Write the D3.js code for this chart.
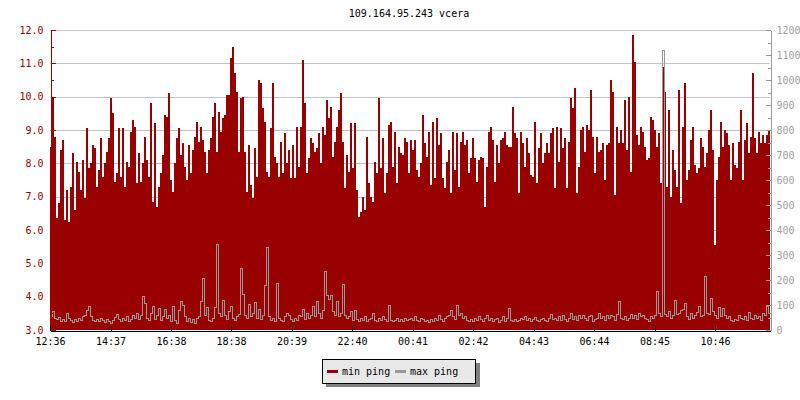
<!DOCTYPE html>
<html>
<head>
<meta charset="utf-8">
<script src="https://cdnjs.cloudflare.com/ajax/libs/d3/7.8.5/d3.min.js"></script>
<style>
  html, body { margin: 0; padding: 0; background: #fff; }
  svg { display: block; }
  text { font-family: "DejaVu Sans Mono", monospace; }
</style>
</head>
<body>
<div id="chart"></div>
<script>
// ---------------- DATA ----------------
const chartTitle = "109.164.95.243 vcera";
const startTime = "12:36";
const stepMinutes = 4;
const spanMinutes = 1440;

// min ping (ms, left axis), one value every 4 minutes
const minPing = [
  8.5,10.0,8.8,6.35,6.8,8.4,8.7,6.3,7.2,6.25,
  7.3,8.3,6.6,8.05,7.75,7.2,8.1,6.95,9.05,7.85,
  8.0,8.55,8.45,7.3,7.8,8.75,7.6,8.0,8.35,8.75,
  9.95,9.5,7.45,7.7,9.05,7.6,9.05,7.3,8.05,7.9,
  8.95,9.3,9.1,7.4,8.3,7.45,8.0,8.8,8.1,7.6,
  9.8,6.85,9.2,6.7,7.3,7.7,8.25,9.45,9.4,10.1,
  7.5,7.15,8.0,8.75,9.05,8.25,8.6,7.9,7.5,8.55,
  7.7,8.4,8.8,9.25,8.65,9.1,8.7,8.35,7.7,8.4,
  8.75,9.4,9.8,8.35,9.55,8.95,9.35,9.45,10.05,
  10.05,11.15,11.5,10.7,10.15,8.35,9.95,10.0,8.35,7.15,
  8.55,7.35,6.95,8.45,7.6,10.5,10.4,9.65,9.25,7.75,
  7.6,9.05,10.4,8.2,8.0,7.6,8.65,7.7,8.9,8.0,
  8.4,7.55,8.55,7.55,9.1,7.9,9.1,11.1,9.8,7.7,
  8.15,8.75,8.6,8.35,8.45,8.9,8.0,9.1,8.85,9.9,
  9.35,9.7,8.2,8.65,9.1,9.6,10.1,8.65,7.25,8.25,
  7.75,9.2,7.85,9.2,7.2,6.4,6.55,7.0,6.6,8.8,
  7.4,7.0,6.85,8.05,7.7,9.95,7.85,8.75,7.1,7.7,
  9.15,9.25,7.9,8.95,7.4,8.5,8.3,8.25,8.75,8.65,7.7,
  8.7,8.4,8.7,7.8,7.6,8.0,9.45,8.6,8.2,8.95,
  7.35,9.25,7.55,9.35,8.55,8.9,7.55,7.25,8.05,8.4,
  7.1,8.95,7.8,8.9,7.3,8.65,8.95,8.55,8.7,7.7,
  8.15,8.75,8.15,7.45,8.1,8.2,8.15,6.7,7.9,8.95,
  9.1,8.7,7.45,8.55,8.0,8.7,8.75,8.95,8.55,8.5,
  8.5,9.7,8.9,8.75,7.1,8.95,8.6,7.9,8.75,8.3,
  7.65,7.6,9.25,7.4,8.45,8.9,8.0,8.3,8.6,8.3,
  8.9,9.05,7.25,9.1,8.05,9.05,8.45,8.75,7.25,8.65,
  9.95,9.65,10.25,7.1,7.9,9.0,9.1,8.35,9.15,9.0,
  10.2,8.8,7.7,8.8,8.35,8.4,8.6,7.5,8.55,8.6,
  10.5,10.15,7.05,9.1,8.6,9.0,8.6,9.9,8.4,10.0,
  7.75,11.85,11.05,8.85,8.55,9.1,8.95,8.5,8.1,8.15,
  9.4,9.3,9.0,8.5,8.9,7.4,10.9,10.15,7.3,9.6,
  7.0,8.4,7.8,7.3,10.2,6.8,9.1,10.4,7.5,7.8,
  8.7,9.1,7.95,7.7,7.85,8.75,8.5,7.9,8.3,9.0,
  9.6,8.4,5.55,7.5,8.2,9.25,8.5,9.0,8.9,8.55,
  7.5,8.6,7.95,7.85,8.65,9.6,7.5,8.7,9.2,8.3,
  8.8,10.7,8.75,8.3,8.95,8.6,8.85,8.6,8.85,9.0
];

// max ping (ms, right axis), one value every 4 minutes
const maxPing = [
  55,76,50,45,52,38,44,36,70,48,
  40,33,45,38,50,42,55,60,80,96,
  58,40,35,44,36,48,42,33,45,38,
  30,40,52,63,45,35,48,40,55,38,
  44,60,50,67,45,60,136,110,50,40,
  70,96,45,60,87,40,55,84,48,62,
  35,96,40,30,80,116,100,55,38,50,
  34,45,30,48,55,116,208,60,93,40,
  35,50,93,344,70,55,120,60,45,75,
  96,50,40,55,65,247,143,60,48,105,
  55,70,112,50,84,45,60,180,331,55,
  40,48,35,188,50,42,38,55,70,60,
  45,35,50,42,60,55,84,45,70,48,
  60,96,55,117,70,50,80,236,140,124,
  140,75,60,115,55,70,184,60,48,55,
  75,40,81,45,35,50,40,55,38,45,
  50,70,42,36,48,40,55,45,38,100,
  42,35,40,48,36,44,38,50,40,45,
  48,40,55,42,38,50,45,36,40,33,
  45,38,50,42,60,45,38,50,55,62,
  79,55,45,100,60,68,50,55,40,35,
  45,38,50,40,55,45,38,50,60,42,
  48,36,45,50,33,42,55,38,48,88,
  40,35,45,38,42,50,45,55,40,48,
  38,45,52,40,35,45,50,42,38,48,
  64,45,50,40,55,42,60,45,38,50,
  70,45,55,40,60,48,62,50,42,55,
  60,38,45,50,70,48,55,42,60,50,
  62,55,40,65,116,50,45,55,42,48,
  65,50,60,45,70,55,62,50,45,38,
  55,48,60,156,70,55,1120,65,55,76,
  50,60,119,65,70,80,85,107,55,45,
  68,50,60,72,96,58,62,216,70,65,
  128,75,60,50,91,55,87,60,48,55,
  42,38,45,40,60,50,45,55,42,73,
  50,45,60,48,55,42,70,60,96,70
];

const xTickLabels = ["12:36","14:37","16:38","18:38","20:39","22:40","00:41","02:42","04:43","06:44","08:45","10:46"];
const leftTicks = [3,4,5,6,7,8,9,10,11,12];
const leftMinorTicks = [3.5,4.5,5.5,6.5,7.5,8.5,9.5,10.5,11.5];
const rightTicks = [0,100,200,300,400,500,600,700,800,900,1000,1100,1200];
const rightMinorTicks = [50,150,250,350,450,550,650,750,850,950,1050,1150];
const legendItems = [
  { label: "min ping", color: "#990000" },
  { label: "max ping", color: "#999999" }
];

// ---------------- LAYOUT ----------------
const W = 800, H = 400;
const plot = { left: 50, right: 770, top: 30, bottom: 330 };
const RED = "#990000", GREY = "#999999", GRID = "#c4c4c4";

function parseHM(s) { const [h, m] = s.split(":").map(Number); return h * 60 + m; }
const startMin = parseHM(startTime);
const base = new Date(2020, 0, 1, 0, 0, 0);
function dateAt(offsetMin) { return new Date(base.getTime() + (startMin + offsetMin) * 60000); }
function labelOffset(s) { let d = parseHM(s) - startMin; if (d < 0) d += 1440; return d; }

const x = d3.scaleTime()
  .domain([dateAt(0), dateAt(spanMinutes)])
  .range([plot.left, plot.right]);
const yL = d3.scaleLinear().domain([3, 12]).range([plot.bottom, plot.top]);
const yR = d3.scaleLinear().domain([0, 1200]).range([plot.bottom, plot.top]);

const svg = d3.select("#chart").append("svg").attr("width", W).attr("height", H);
svg.append("rect").attr("width", W).attr("height", H).attr("fill", "#fff");

// title
svg.append("text").attr("x", 409).attr("y", 17).attr("text-anchor", "middle")
  .attr("font-size", 10).attr("fill", "#000").text(chartTitle);

// gridlines
svg.append("g").selectAll("line").data(leftTicks.filter(d => d > 3)).join("line")
  .attr("x1", plot.left).attr("x2", plot.right)
  .attr("y1", d => Math.round(yL(d)) + 0.5).attr("y2", d => Math.round(yL(d)) + 0.5)
  .attr("stroke", GRID).attr("stroke-width", 1);

// min ping area
const minData = minPing.map((v, i) => ({ t: dateAt(i * stepMinutes), v }));
minData.push({ t: dateAt(spanMinutes), v: minPing[minPing.length - 1] });
const area = d3.area().curve(d3.curveStepAfter)
  .x(d => x(d.t)).y0(yL(3)).y1(d => yL(d.v));
svg.append("path").datum(minData).attr("d", area)
  .attr("fill", RED).attr("shape-rendering", "crispEdges");

// max ping line
const maxData = maxPing.map((v, i) => ({ t: dateAt(i * stepMinutes), v }));
maxData.push({ t: dateAt(spanMinutes), v: maxPing[maxPing.length - 1] });
const line = d3.line().curve(d3.curveStepAfter)
  .x(d => x(d.t) + 0.5).y(d => Math.round(yR(d.v)) + 0.5);
svg.append("path").datum(maxData).attr("d", line)
  .attr("fill", "none").attr("stroke", GREY).attr("stroke-width", 1)
  .attr("shape-rendering", "crispEdges");

// left axis
const gL = svg.append("g").attr("transform", `translate(${plot.left + 0.5},0)`);
gL.call(d3.axisLeft(yL).tickValues(leftTicks).tickSize(-5).tickSizeOuter(0).tickPadding(7)
  .tickFormat(d3.format(".1f")));
gL.append("g").call(d3.axisLeft(yL).tickValues(leftMinorTicks).tickSize(-3).tickSizeOuter(0).tickFormat(""));
gL.selectAll("path,line").attr("stroke", RED).attr("shape-rendering", "crispEdges");
gL.selectAll("text").attr("fill", RED).attr("font-size", 10).attr("font-family", "DejaVu Sans Mono");

// right axis
const gR = svg.append("g").attr("transform", `translate(${plot.right + 0.5},0)`);
gR.call(d3.axisRight(yR).tickValues(rightTicks).tickSize(-5).tickSizeOuter(0).tickPadding(6)
  .tickFormat(d3.format("d")));
gR.append("g").call(d3.axisRight(yR).tickValues(rightMinorTicks).tickSize(-3).tickSizeOuter(0).tickFormat(""));
gR.selectAll("path,line").attr("stroke", GREY).attr("shape-rendering", "crispEdges");
gR.selectAll("text").attr("fill", "#a0a0a0").attr("font-size", 10).attr("font-family", "DejaVu Sans Mono");

// bottom axis
const tickDates = xTickLabels.map(s => dateAt(labelOffset(s)));
const gB = svg.append("g").attr("transform", `translate(0,${plot.bottom + 0.5})`);
gB.call(d3.axisBottom(x).tickValues(tickDates).tickSize(-5).tickSizeOuter(0).tickPadding(7)
  .tickFormat((d, i) => xTickLabels[i]));
gB.selectAll("path,line").attr("stroke", "#000").attr("shape-rendering", "crispEdges");
gB.selectAll("text").attr("fill", "#000").attr("font-size", 10).attr("font-family", "DejaVu Sans Mono");

// legend
const lg = svg.append("g").attr("transform", "translate(322,359)");
lg.append("rect").attr("x", 4).attr("y", 4).attr("width", 154).attr("height", 24).attr("fill", "#808080");
lg.append("rect").attr("x", 0.5).attr("y", 0.5).attr("width", 153).attr("height", 24)
  .attr("fill", "#e8e8e8").attr("stroke", "#000").attr("stroke-width", 1);
const li = lg.selectAll("g.item").data(legendItems).join("g").attr("class", "item")
  .attr("transform", (d, i) => `translate(${5 + i * 68},0)`);
li.append("rect").attr("x", 0).attr("y", 11).attr("width", 11).attr("height", 3).attr("fill", d => d.color);
li.append("text").attr("x", 15).attr("y", 16).attr("font-size", 10).attr("fill", "#000").text(d => d.label);
</script>
</body>
</html>
